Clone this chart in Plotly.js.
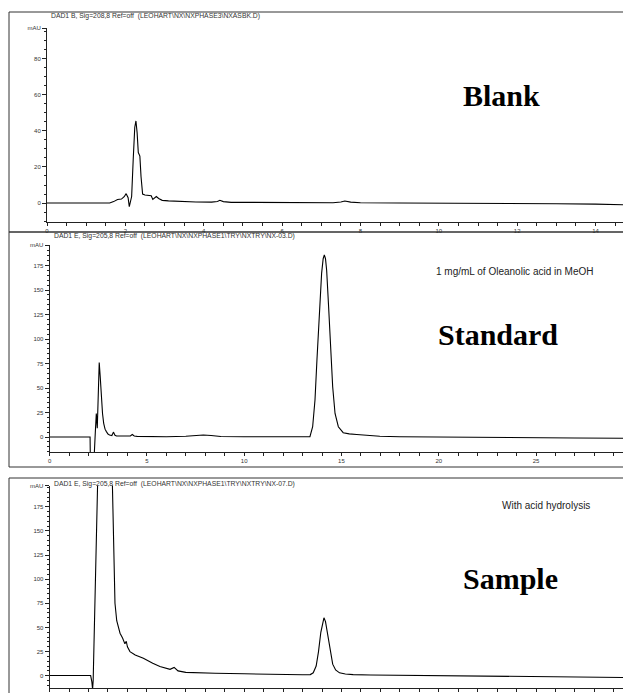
<!DOCTYPE html>
<html>
<head>
<meta charset="utf-8">
<script src="https://cdn.plot.ly/plotly-3.0.1.min.js"></script>
<style>html,body{margin:0;padding:0;background:#fff;}#chart{width:623px;height:693px;}</style>
</head>
<body>
<div id="chart"></div>
<script>
// ---------- DATA ----------
// Panel 1 : Blank
var blankTime = [0, 1.0, 1.6, 1.7, 1.8, 1.9, 1.97, 2.02, 2.07, 2.1, 2.13, 2.16, 2.2, 2.24, 2.27, 2.3, 2.33, 2.37, 2.4, 2.44, 2.5, 2.6, 2.66, 2.7, 2.75, 2.79, 2.85, 2.94, 3.1, 3.36, 3.8, 4.2, 4.35, 4.41, 4.5, 4.7, 5.5, 6.5, 7.3, 7.5, 7.6, 7.75, 8.0, 9.0, 10.0, 11.0, 12.0, 13.0, 14.0, 14.7];
var blankMAU  = [0, 0, 0, 0.8, 2.0, 2.2, 3.5, 5.2, 3, -2, 1, 3.6, 24, 42, 45.5, 39, 28, 26, 14.6, 5, 4.5, 4.2, 4, 2, 2.8, 3.6, 2.5, 1.5, 1.2, 0.9, 0.6, 0.5, 0.9, 1.5, 0.8, 0.4, 0.3, 0.2, 0.2, 0.6, 1.1, 0.5, 0.2, 0, 0, -0.2, -0.3, -0.4, -0.6, -0.9];
// Panel 2 : Standard
var stdTime = [0, 2.08, 2.09, 2.3, 2.35, 2.4, 2.45, 2.5, 2.55, 2.6, 2.65, 2.72, 2.78, 2.85, 2.92, 3.0, 3.08, 3.2, 3.28, 3.36, 3.44, 3.7, 4.0, 4.15, 4.25, 4.35, 4.5, 5.0, 6.0, 7.0, 7.5, 7.9, 8.3, 8.8, 10.0, 11.33, 13.0, 13.38, 13.52, 13.64, 13.74, 13.86, 13.98, 14.06, 14.12, 14.18, 14.24, 14.34, 14.44, 14.55, 14.67, 14.84, 15.09, 15.4, 15.78, 16.4, 16.97, 18.0, 19.5, 21, 23, 25, 27, 29.5];
var stdMAU  = [0, 0, -16, -16, 5, 24, 9, 55, 76, 62, 41, 24, 14, 8, 5.5, 3, 2, 1.5, 5, 1.8, 1, 0.8, 0.6, 1, 2.5, 1.0, 0.6, 0.4, 0.3, 0.8, 1.5, 2, 1.5, 0.5, 0.3, 0.2, 0.2, 0.3, 10.5, 37.8, 78.6, 126, 167, 182, 186, 182, 170, 133, 89, 51, 24, 10.5, 4.4, 3.2, 2.5, 1.5, 0.8, 0.3, 0, -0.3, -0.6, -0.8, -1, -1.2];
// Panel 3 : Sample
var smpTime = [0, 1.5, 2.11, 2.17, 2.21, 2.24, 2.48, 2.7, 3.0, 3.22, 3.36, 3.45, 3.62, 3.75, 3.87, 3.94, 4.0, 4.13, 4.4, 4.82, 5.0, 5.3, 5.67, 6.0, 6.19, 6.4, 6.6, 7.0, 7.5, 8.5, 10.0, 11.0, 12.0, 13.0, 13.4, 13.55, 13.7, 13.82, 13.94, 14.04, 14.1, 14.18, 14.3, 14.42, 14.55, 14.7, 14.9, 15.2, 15.6, 16.5, 18, 20, 22, 24, 26, 28, 29.5];
var smpMAU  = [0.3, 0.3, 0.2, -6, -14, -5, 210, 260, 260, 205, 75, 57, 44, 39, 33, 35.7, 30, 25, 21.5, 18, 16, 13, 9.5, 7.5, 6.6, 8.6, 5, 3.5, 3, 2.5, 2.0, 1.5, 1.2, 1.0, 1.2, 3, 10, 25, 45, 57, 60, 56, 42, 25, 12, 6, 3, 1.8, 1.2, 0.8, 0.5, 0, -0.5, -0.8, -1.2, -1.5, -1.8];

// tick labels
var blankXTicks = [0, 2, 4, 6, 8, 10, 12, 14];
var blankYTicks = [0, 20, 40, 60, 80, 97];
var blankYText  = ['0', '20', '40', '60', '80', 'mAU'];
var lcXTicks = [0, 5, 10, 15, 20, 25];
var lcYTicks = [0, 25, 50, 75, 100, 125, 150, 175, 196];
var lcYText  = ['0', '25', '50', '75', '100', '125', '150', '175', 'mAU'];
var smpYTicks = [0, 25, 50, 75, 100, 125, 150, 175, 197];

// texts
var headers = [
  'DAD1 B, Sig=208,8 Ref=off  (LEOHART\\NX\\NXPHASE3\\NXASBK.D)',
  'DAD1 E, Sig=205,8 Ref=off  (LEOHART\\NX\\NXPHASE1\\TRY\\NXTRY\\NX-03.D)',
  'DAD1 E, Sig=205,8 Ref=off  (LEOHART\\NX\\NXPHASE1\\TRY\\NXTRY\\NX-07.D)'
];
var bigLabels = ['Blank', 'Standard', 'Sample'];
var notes = ['1 mg/mL of Oleanolic acid in MeOH', 'With acid hydrolysis'];

// ---------- LAYOUT HELPERS ----------
var W = 623, H = 693;
function px(x) { return x / W; }
function py(y) { return 1 - y / H; }

var tickFont = {family: 'Arial, Liberation Sans, sans-serif', size: 6, color: '#333'};
var axCol = '#222';

function xax(domainLeft, rng, vals, minorD, anchor) {
  return {
    domain: [px(domainLeft), 1], range: rng, anchor: anchor,
    showline: true, linecolor: axCol, linewidth: 1,
    ticks: 'outside', ticklen: 3, tickwidth: 1, tickcolor: axCol,
    tickmode: 'array', tickvals: vals, ticktext: vals.map(String),
    tickfont: tickFont, showgrid: false, zeroline: false,
    minor: {tickmode: 'linear', tick0: 0, dtick: minorD, ticks: 'outside', ticklen: 3, tickcolor: axCol, showgrid: false}
  };
}
function yax(top, bottom, rng, vals, text, minorD, anchor) {
  return {
    domain: [py(bottom), py(top)], range: rng, anchor: anchor,
    showline: true, linecolor: axCol, linewidth: 1,
    ticks: 'outside', ticklen: 4, tickwidth: 1, tickcolor: axCol,
    tickmode: 'array', tickvals: vals, ticktext: text,
    tickfont: tickFont, showgrid: false, zeroline: false,
    minor: {tickmode: 'linear', tick0: 0, dtick: minorD, ticks: 'outside', ticklen: 2, tickcolor: axCol, showgrid: false}
  };
}

var lineStyle = {color: '#000', width: 1.1};
var traces = [
  {x: blankTime, y: blankMAU, xaxis: 'x', yaxis: 'y', mode: 'lines', line: lineStyle, hoverinfo: 'skip'},
  {x: stdTime, y: stdMAU, xaxis: 'x2', yaxis: 'y2', mode: 'lines', line: lineStyle, hoverinfo: 'skip'},
  {x: smpTime, y: smpMAU, xaxis: 'x3', yaxis: 'y3', mode: 'lines', line: lineStyle, hoverinfo: 'skip'}
];

var hdrFont = {family: 'Arial, Liberation Sans, sans-serif', size: 6.8, color: '#333'};
var bigFont = {family: 'Liberation Serif, Times New Roman, serif', size: 30, color: '#000', weight: 700};
var noteFont = {family: 'Arial, Liberation Sans, sans-serif', size: 10, color: '#222'};

function ann(text, x, y, font, xanchor) {
  return {text: text, xref: 'paper', yref: 'paper', x: px(x), y: py(y), xanchor: xanchor || 'left', yanchor: 'middle', showarrow: false, font: font};
}

var annotations = [
  ann(headers[0], 49, 16, hdrFont),
  ann(headers[1], 52, 236, hdrFont),
  ann(headers[2], 52, 484, hdrFont),
  ann(bigLabels[0], 501, 96, bigFont, 'center'),
  ann(bigLabels[1], 498, 334, bigFont, 'center'),
  ann(bigLabels[2], 510, 578, bigFont, 'center'),
  ann(notes[0], 514, 271, noteFont, 'center'),
  ann(notes[1], 546, 505, noteFont, 'center')
];

function frame(x0, y0, x1, y1) {
  return {type: 'rect', xref: 'paper', yref: 'paper', x0: px(x0), y0: py(y1), x1: px(x1), y1: py(y0),
          line: {color: '#333', width: 1}, fillcolor: 'rgba(0,0,0,0)', layer: 'below'};
}

var layout = {
  width: W, height: H, margin: {l: 0, r: 0, t: 0, b: 0},
  paper_bgcolor: '#fff', plot_bgcolor: 'rgba(0,0,0,0)', showlegend: false,
  xaxis: xax(47, [0, 14.7], blankXTicks, 0.5, 'y'),
  yaxis: yax(28, 222, [-10.5, 97], blankYTicks, blankYText, 5, 'x'),
  xaxis2: xax(49.6, [0, 29.47], lcXTicks, 1, 'y2'),
  yaxis2: yax(245, 452, [-15.3, 196], lcYTicks, lcYText, 5, 'x2'),
  xaxis3: xax(49.6, [0, 29.47], lcXTicks, 1, 'y3'),
  yaxis3: yax(485.5, 688, [-12.7, 197], smpYTicks, lcYText, 5, 'x3'),
  annotations: annotations,
  shapes: [frame(9, 12, 640, 232), frame(9, 232, 640, 467), frame(9, 478, 640, 710)]
};

Plotly.newPlot('chart', traces, layout, {staticPlot: true, displayModeBar: false});
</script>
</body>
</html>
